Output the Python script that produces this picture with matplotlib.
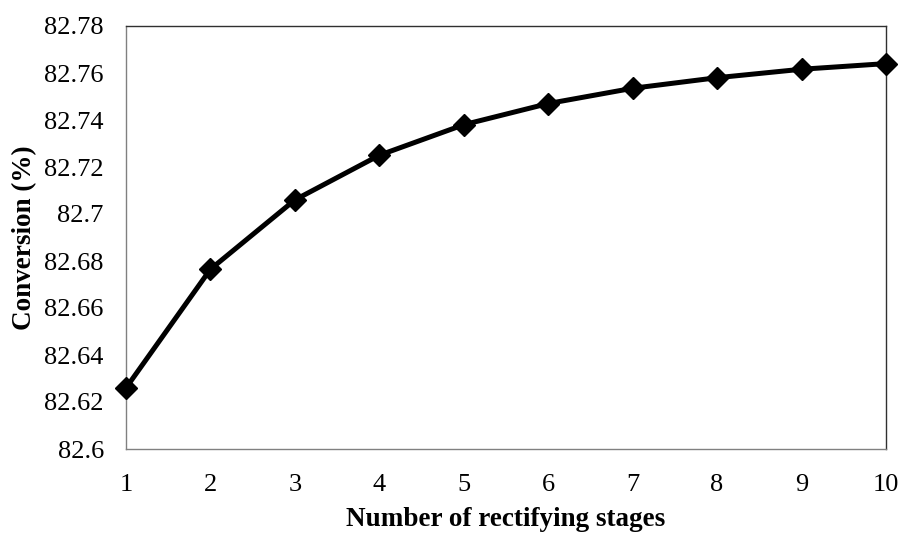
import matplotlib.pyplot as plt

stages = [1, 2, 3, 4, 5, 6, 7, 8, 9, 10]
conversion = [82.626, 82.6765, 82.706, 82.725, 82.738, 82.747, 82.7535, 82.758, 82.7616, 82.764]
y_ticks = [82.6, 82.62, 82.64, 82.66, 82.68, 82.7, 82.72, 82.74, 82.76, 82.78]
y_labels = ['82.6', '82.62', '82.64', '82.66', '82.68', '82.7', '82.72', '82.74', '82.76', '82.78']

plt.rcParams['font.family'] = ['Liberation Serif', 'DejaVu Serif']

fig = plt.figure(figsize=(9.04, 5.34), dpi=100)
ax = fig.add_axes([126 / 904, 1 - 449 / 534, (886 - 126) / 904, (449 - 26) / 534])

ax.plot(stages, conversion, color='black', linewidth=3.6, marker='D',
        markersize=11, clip_on=False, zorder=3)

ax.set_xlim(1, 10)
ax.set_ylim(82.6, 82.78)
ax.set_xticks(stages)
ax.set_xticklabels([str(s) for s in stages])
ax.set_yticks(y_ticks)
ax.set_yticklabels(y_labels)
ax.tick_params(length=0, labelsize=19)
ax.tick_params(axis='x', pad=18)
ax.tick_params(axis='y', pad=16)

for side in ['left', 'bottom']:
    ax.spines[side].set_color('#808080')
for side in ['top', 'right']:
    ax.spines[side].set_color('#303030')
for sp in ax.spines.values():
    sp.set_linewidth(1.0)

ax.set_xlabel('Number of rectifying stages', fontsize=19.5, fontweight='bold', labelpad=8)
ax.set_ylabel('Conversion (%)', fontsize=19.5, fontweight='bold', labelpad=5)

fig.savefig('out.png', dpi=100)
